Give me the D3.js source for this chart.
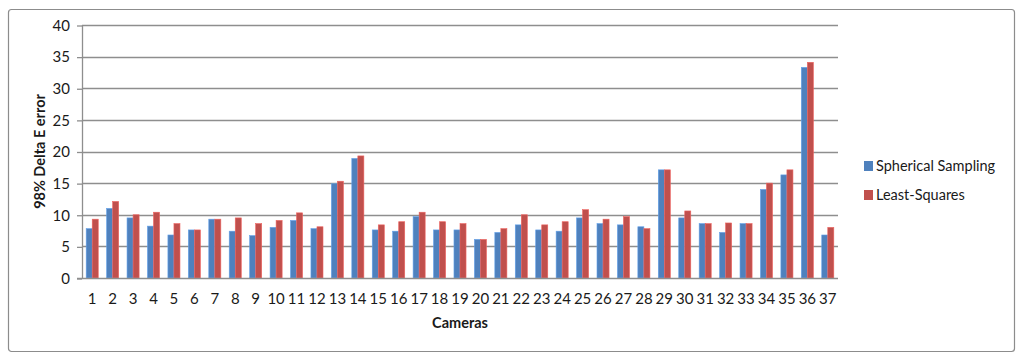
<!DOCTYPE html>
<html>
<head>
<meta charset="utf-8">
<script src="https://cdn.jsdelivr.net/npm/d3@7"></script>
<style>
  body { margin: 0; background: #fff; }
  text { font-family: Lato, "Open Sans", sans-serif; fill: #1a1a1a; }
</style>
</head>
<body>
<svg id="chart" width="1024" height="361"></svg>
<script>
const cameras = d3.range(1, 38).map(String);
const seriesNames = ['Spherical Sampling', 'Least-Squares'];
const spherical = [7.8, 11.0, 9.5, 8.2, 6.8, 7.6, 9.3, 7.4, 6.7, 8.0, 9.1, 7.8, 14.9, 18.9, 7.6, 7.4, 9.7, 7.6, 7.6, 6.1,
  7.2, 8.4, 7.6, 7.4, 9.5, 8.6, 8.4, 8.1, 17.1, 9.5, 8.6, 7.2, 8.6, 14.0, 16.3, 33.3, 6.8];
const leastSquares = [9.3, 12.1, 10.0, 10.4, 8.6, 7.6, 9.3, 9.5, 8.6, 9.1, 10.3, 8.1, 15.3, 19.3, 8.4, 8.9, 10.4, 8.9, 8.6, 6.1,
  7.8, 10.0, 8.4, 8.9, 10.8, 9.3, 9.7, 7.8, 17.1, 10.6, 8.6, 8.7, 8.6, 15.0, 17.1, 34.1, 8.0];
const yTicks = [0, 5, 10, 15, 20, 25, 30, 35, 40];
const colors = ['#4f81bd', '#c0504d'];

const svg = d3.select('#chart');
const margin = { left: 82, right: 186, top: 25, bottom: 83 };
const width = 1024, height = 361;

// outer chart frame
svg.append('rect')
  .attr('x', 8.5).attr('y', 9.5)
  .attr('width', 1006).attr('height', 342)
  .attr('rx', 3)
  .style('fill', '#fff')
  .style('stroke', '#8c8c8c')
  .style('stroke-width', 1.2);

const x = d3.scaleBand(cameras, [margin.left, width - margin.right]).paddingInner(0.41).paddingOuter(0.205);
const xs = d3.scaleBand([0, 1], [0, x.bandwidth()]);
const y = d3.scaleLinear([0, 40], [height - margin.bottom, margin.top]);

/*
Gridlines and axes
*/
svg.append('g').attr('class', 'grid')
  .selectAll('line').data(yTicks.slice(1)).join('line')
  .attr('x1', margin.left).attr('x2', width - margin.right)
  .attr('y1', d => Math.round(y(d)) + .5).attr('y2', d => Math.round(y(d)) + .5)
  .style('stroke', '#8e8e8e').style('stroke-width', 1.3);

const yAxis = svg.append('g')
  .attr('transform', `translate(${margin.left},0.5)`)
  .call(d3.axisLeft(y).tickValues(yTicks).tickSize(5).tickPadding(7).tickFormat(d => d));
yAxis.select('.domain').remove();
yAxis.selectAll('line').style('stroke', '#8e8e8e').style('stroke-width', 1.3);
yAxis.selectAll('text').style('font-size', '15px').attr('fill', '#1a1a1a');

/*
Bars
*/
const groups = svg.append('g').selectAll('g')
  .data(cameras).join('g')
  .attr('transform', d => `translate(${x(d)},0)`);

groups.selectAll('rect')
  .data((d, i) => [spherical[i], leastSquares[i]])
  .join('rect')
  .attr('x', (d, j) => xs(j))
  .attr('width', xs.bandwidth())
  .attr('y', d => y(d))
  .attr('height', d => y(0) - y(d))
  .style('fill', (d, j) => colors[j])
  .style('stroke', (d, j) => d3.color(colors[j]).brighter(0.6))
  .style('stroke-width', 0.6);

// axis lines on top of bars
svg.append('line')
  .attr('x1', margin.left - 5).attr('x2', width - margin.right)
  .attr('y1', y(0) + .5).attr('y2', y(0) + .5)
  .style('stroke', '#8e8e8e').style('stroke-width', 1.3);
svg.append('line')
  .attr('x1', margin.left + .5).attr('x2', margin.left + .5)
  .attr('y1', y(40)).attr('y2', y(0))
  .style('stroke', '#8e8e8e').style('stroke-width', 1.3);

const xAxis = svg.append('g')
  .attr('transform', `translate(0,${y(0)})`)
  .call(d3.axisBottom(x).tickSize(0).tickPadding(15));
xAxis.select('.domain').remove();
xAxis.selectAll('text').style('font-size', '15px').attr('fill', '#1a1a1a');

/*
Axis titles
*/
svg.append('text')
  .attr('x', (margin.left + width - margin.right) / 2)
  .attr('y', 328)
  .attr('text-anchor', 'middle')
  .style('font-size', '14.5px').style('font-weight', 'bold')
  .text('Cameras');

svg.append('text')
  .attr('transform', `translate(45,${(y(0) + y(40)) / 2}) rotate(-90)`)
  .attr('text-anchor', 'middle')
  .style('font-size', '14.5px').style('font-weight', 'bold')
  .text('98% Delta E error');

/*
Legend
*/
const legend = svg.append('g').attr('transform', 'translate(864,161)');
const items = legend.selectAll('g').data(seriesNames).join('g')
  .attr('transform', (d, i) => `translate(0,${i * 29})`);
items.append('rect')
  .attr('width', 9).attr('height', 10)
  .style('fill', (d, i) => colors[i]);
items.append('text')
  .attr('x', 12).attr('y', 10)
  .style('font-size', '14.5px')
  .text(d => d);
</script>
</body>
</html>
